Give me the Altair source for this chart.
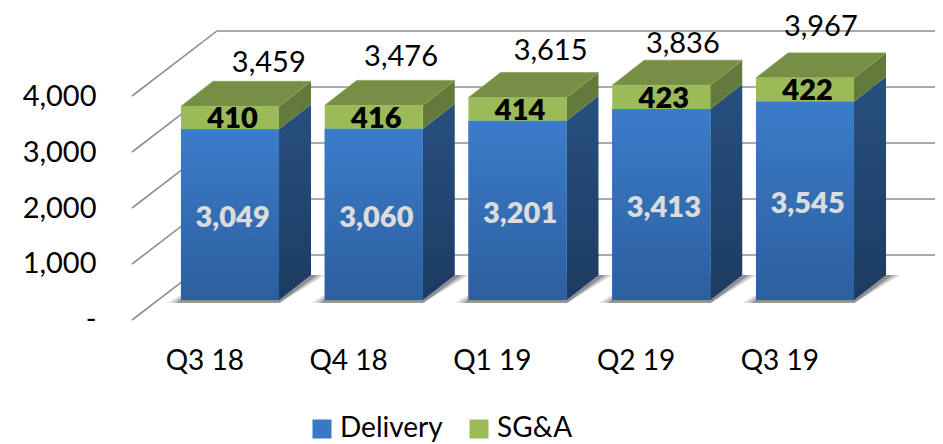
import altair as alt
import pandas as pd

quarters = ["Q3 18", "Q4 18", "Q1 19", "Q2 19", "Q3 19"]
delivery = [3049, 3060, 3201, 3413, 3545]
sga = [410, 416, 414, 423, 422]
totals = [3459, 3476, 3615, 3836, 3967]
levels = [0, 1000, 2000, 3000, 4000]
series = ["Delivery", "SG&A"]

# Layout of the pseudo-3D box, in scale units
BAR_W = 0.682          # front face width (category units)
DX = 0.2226            # bar depth, x
DY = 446               # bar depth, y
FLOOR = 357            # front of the bars sits this far "into" the floor
WALL_DX = 0.591        # wall depth, x
WALL_DY = 1161         # wall depth, y
X_LEFT = -0.6817
X_RIGHT = 4.9043
# hand-placed total labels in the original (offset from bar centre / top)
TOTAL_SHIFT_X = [0.27, 0.19, 0.23, 0.15, 0.11]
TOTAL_SHIFT_Y = [768, 870, 830, 731, 915]

FONT = "Lato"

x_scale = alt.Scale(domain=[-0.9043, 4.9043], range=[0, 835], nice=False, zero=False)
y_scale = alt.Scale(domain=[-2071.43, 5571.43], range=[428, 0], nice=False, zero=False)
y_axis = alt.Axis(
    values=levels, title=None, grid=False, domain=False, ticks=False,
    labelFont=FONT, labelFontSize=29, labelColor="#000000", labelPadding=4,
    labelExpr="datum.value == 0 ? '-' : format(datum.value, ',')")
X = lambda f="x": alt.X(f"{f}:Q", scale=x_scale, axis=None)
Y = lambda f="y": alt.Y(f"{f}:Q", scale=y_scale, axis=y_axis)


def grad(top, bottom):
    return alt.Gradient(gradient="linear", x1=0, y1=0, x2=0, y2=1,
                        stops=[alt.GradientStop(offset=0, color=top),
                               alt.GradientStop(offset=1, color=bottom)])


# Gridlines
grid_rows = []
for v in levels:
    grid_rows += [
        dict(level=v, o=0, x=X_LEFT, y=v),
        dict(level=v, o=1, x=X_LEFT + WALL_DX, y=v + WALL_DY),
        dict(level=v, o=2, x=X_RIGHT, y=v + WALL_DY),
    ]
grid = alt.Chart(pd.DataFrame(grid_rows)).mark_line(color="#8f8f8f", strokeWidth=1.6).encode(
    x=X(), y=Y(), detail="level:N", order="o:Q",
)

front_rows, side_rows, top_rows, shadow_side = [], [], [], []
for i, q in enumerate(quarters):
    L, R = i - BAR_W / 2, i + BAR_W / 2
    d, s = delivery[i], sga[i]
    for name, lo, hi in (("Delivery", 0, d), ("SG&A", d, d + s)):
        front_rows.append(dict(series=name, x=L, x2=R, y=FLOOR + lo, y2=FLOOR + hi))
        for xx, off in ((R, 0), (R + DX, DY)):
            side_rows.append(dict(series=name, bar=i, x=xx, y=FLOOR + lo + off, y2=FLOOR + hi + off))
    top = FLOOR + d + s
    top_rows += [dict(bar=i, y=top, x=L, x2=R), dict(bar=i, y=top + DY, x=L + DX, x2=R + DX)]
    for grow in (0.11, 0.08, 0.05):
        shadow_side += [
            dict(bar=i, g=grow, y=FLOOR - 50, x=L - grow + 0.02, x2=R + 0.005),
            dict(bar=i, g=grow, y=FLOOR + DY, x=L + DX, x2=R + DX + grow * 0.9),
        ]

front_df = pd.DataFrame(front_rows)
side_df = pd.DataFrame(side_rows)

shadows = [
    alt.Chart(pd.DataFrame([r for r in shadow_side if r["g"] == g])).mark_area(
        orient="horizontal", color=c).encode(x=X(), x2="x2:Q", y=Y(), detail="bar:N")
    for g, c in ((0.11, "#dedede"), (0.08, "#bdbdbd"), (0.05, "#8f8f8f"))
]

side_blue = alt.Chart(side_df[side_df.series == "Delivery"]).mark_area(
    color=grad("#27507f", "#1c3b62")).encode(x=X(), y=Y(), y2="y2:Q", detail="bar:N")
side_green = alt.Chart(side_df[side_df.series == "SG&A"]).mark_area(
    color="#647a3a").encode(x=X(), y=Y(), y2="y2:Q", detail="bar:N")
top_face = alt.Chart(pd.DataFrame(top_rows)).mark_area(
    orient="horizontal", color="#778f45", stroke="#8fa360", strokeWidth=0.8
).encode(x=X(), x2="x2:Q", y=Y(), detail="bar:N")

front = alt.Chart(front_df).mark_rect().encode(
    x=X(), x2="x2:Q", y=Y(), y2="y2:Q",
    color=alt.Color("series:N",
                    scale=alt.Scale(domain=series, range=["#3a78c3", "#9bbb59"]),
                    legend=alt.Legend(
                        orient="none", legendX=208, legendY=407, direction="horizontal",
                        columns=2, title=None, padding=0, symbolType="square",
                        symbolSize=361, symbolStrokeWidth=0, labelFont=FONT,
                        labelFontSize=28, labelColor="#000000", labelOffset=4,
                        columnPadding=22, labelLimit=200)),
)
front_blue = alt.Chart(front_df[front_df.series == "Delivery"]).mark_rect(
    fill=grad("#3b7cca", "#2c5f9e")).encode(x=X(), x2="x2:Q", y=Y(), y2="y2:Q")

labels = pd.DataFrame({
    "q": quarters,
    "i": range(5),
    "delivery": delivery,
    "sga": sga,
    "total": totals,
    "tx": [i + dx for i, dx in enumerate(TOTAL_SHIFT_X)],
    "ty": [FLOOR + t + dy for t, dy in zip(totals, TOTAL_SHIFT_Y)],
})
labels["dx"] = labels["i"] + 0.018
labels["dy"] = FLOOR + labels["delivery"] / 2 - 60
labels["sy"] = FLOOR + labels["delivery"] + labels["sga"] / 2 - 30
labels["cx"] = labels["i"] - 0.175
labels["cy"] = -750

base_text = dict(font=FONT, fontSize=29, baseline="middle", align="center")
t_total = alt.Chart(labels).mark_text(color="#000000", **base_text).encode(
    x=X("tx"), y=Y("ty"), text=alt.Text("total:Q", format=","))
t_delivery = alt.Chart(labels).mark_text(color="#dcdcdc", fontWeight=800, **base_text).encode(
    x=X("dx"), y=Y("dy"), text=alt.Text("delivery:Q", format=","))
t_sga = alt.Chart(labels).mark_text(color="#000000", fontWeight=800, **base_text).encode(
    x=X("dx"), y=Y("sy"), text=alt.Text("sga:Q"))
t_cat = alt.Chart(labels).mark_text(color="#000000", **{**base_text, "fontSize": 28}).encode(
    x=X("cx"), y=Y("cy"), text="q:N")

chart = alt.layer(
    grid, *shadows, side_blue, side_green, top_face, front, front_blue,
    t_total, t_delivery, t_sga, t_cat,
).properties(
    width=835, height=428,
    autosize=alt.AutoSizeParams(type="none"),
    padding={"left": 92, "top": 0, "right": 0, "bottom": 8},
    background="#ffffff",
).configure_view(stroke=None)

chart.save("out.html", embed_options={"renderer": "svg", "actions": False})
